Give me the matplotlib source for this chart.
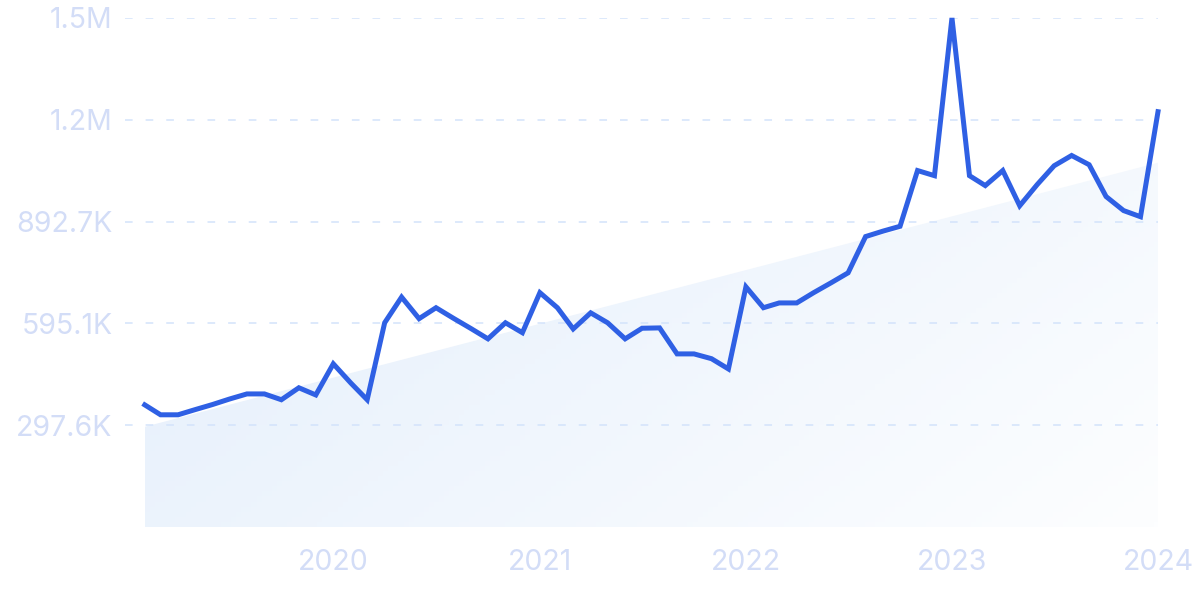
import numpy as np
import pandas as pd
import matplotlib
matplotlib.use("Agg")
import matplotlib.pyplot as plt
import matplotlib.dates as mdates
from matplotlib.patches import Polygon

plt.rcParams['font.family'] = ['Inter', 'DejaVu Sans']

# monthly values, Feb 2019 .. Jan 2024
months = pd.date_range("2019-02-01", periods=60, freq="MS")
values = [357e3, 328e3, 328e3, 343e3, 358e3, 374e3, 389e3, 389e3, 372e3, 407e3,
          386e3, 477e3, 421e3, 372e3, 597e3, 672e3, 609e3, 641e3, 610e3, 580e3,
          550e3, 597e3, 568e3, 685e3, 641e3, 579e3, 626e3, 597e3, 550e3, 581e3,
          582e3, 506e3, 506e3, 492e3, 462e3, 702e3, 641e3, 655e3, 655e3, 685e3,
          714e3, 743e3, 849e3, 865e3, 879e3, 1042e3, 1027e3, 1487.9e3, 1027e3, 998e3,
          1042e3, 939e3, 1001e3, 1056e3, 1086e3, 1059e3, 966e3, 925e3, 907e3, 1214e3]
trend_start = 293e3
trend_end = 1065e3

y_max = 1487.9e3
y_ticks = [y_max * k / 5 for k in range(1, 6)]
y_labels = ["297.6K", "595.1K", "892.7K", "1.2M", "1.5M"]
x_ticks = pd.to_datetime(["2020-01-01", "2021-01-01", "2022-01-01", "2023-01-01", "2024-01-01"])
x_labels = ["2020", "2021", "2022", "2023", "2024"]

label_col = "#d3ddf7"
grid_col = "#d3e3fb"
line_col = "#2f60e4"

fig = plt.figure(figsize=(12, 5.99), dpi=100)
ax = fig.add_axes([125 / 1200, 72 / 599, 1033 / 1200, 509 / 599])

xd = mdates.date2num(months)
x0 = xd[0] - 35
ax.set_xlim(x0, xd[-1])
ax.set_ylim(0, y_max)

# gradient trend area
grad_x = np.linspace(0, 1, 200)
grad_y = np.linspace(0, 1, 100)
gx, gy = np.meshgrid(grad_x, grad_y)
t = np.clip(0.6 * gx + 0.4 * gy, 0, 1)
c0 = np.array([224, 236, 251]) / 255
c1 = np.array([253, 254, 255]) / 255
img = c0[None, None, :] * (1 - t[..., None]) + c1[None, None, :] * t[..., None]
im = ax.imshow(img, extent=[xd[0], xd[-1], 0, y_max], origin="upper",
               aspect="auto", zorder=1)
poly = Polygon([[xd[0], 0], [xd[0], trend_start], [xd[-1], trend_end], [xd[-1], 0]],
               closed=True, facecolor="none", edgecolor="none", transform=ax.transData)
ax.add_patch(poly)
im.set_clip_path(poly)

for yt in y_ticks:
    ax.axhline(yt, color=grid_col, lw=1.1, dashes=(5, 8.5), zorder=2)

ax.plot(xd, values, color=line_col, lw=3.6, solid_joinstyle="miter",
        zorder=3, clip_on=False)

ax.set_yticks(y_ticks)
ax.set_yticklabels(y_labels)
ax.set_xticks(mdates.date2num(x_ticks))
ax.set_xticklabels(x_labels)
ax.tick_params(axis="both", length=0, labelcolor=label_col, labelsize=20.5)
ax.tick_params(axis="y", pad=9)
ax.tick_params(axis="x", pad=16)
for s in ax.spines.values():
    s.set_visible(False)

fig.savefig("out.png", dpi=100)
